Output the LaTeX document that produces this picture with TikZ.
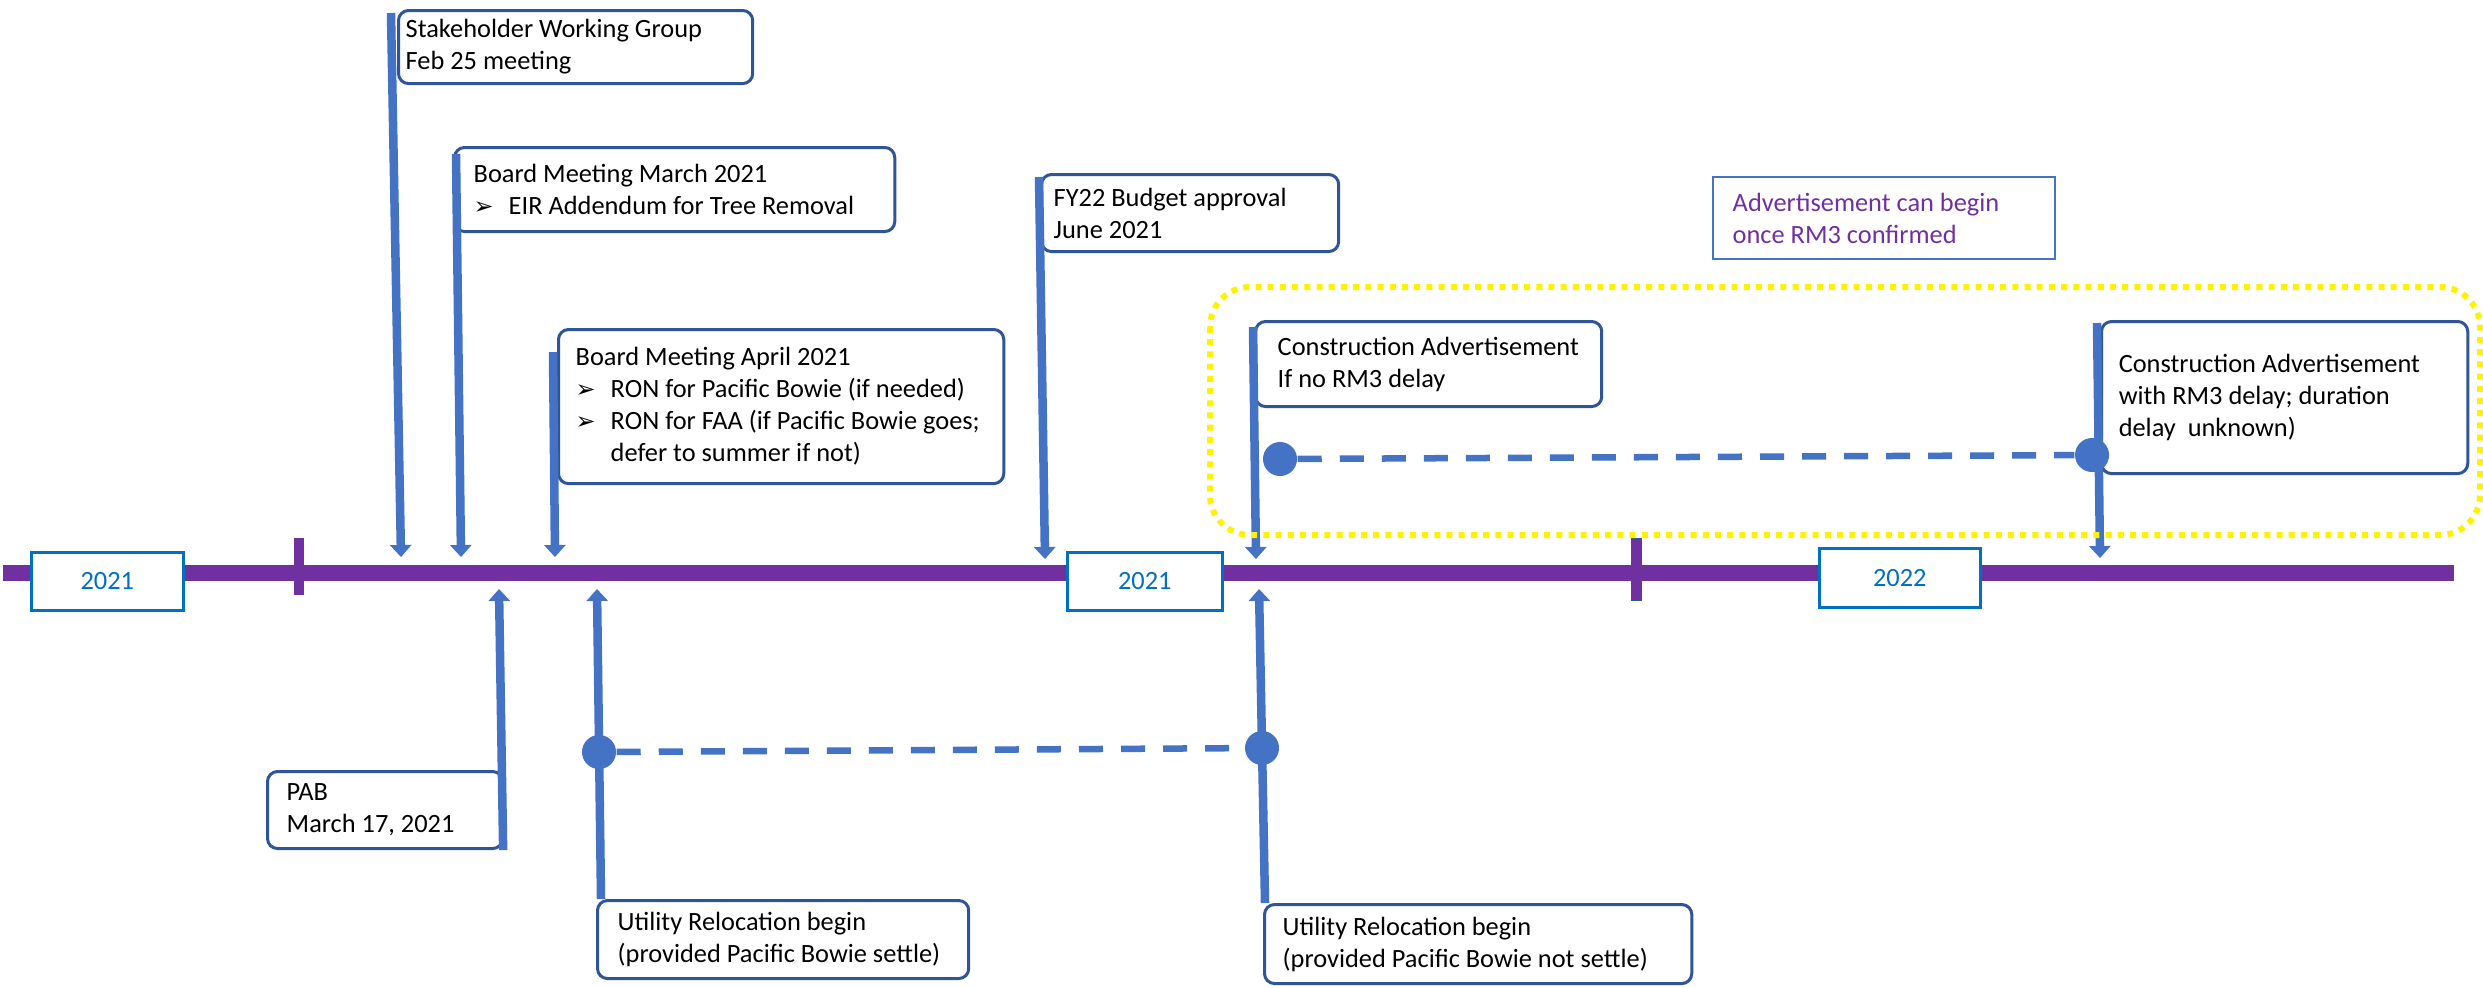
\documentclass[tikz,border=0pt]{standalone}
\usepackage{fontspec}
\setmainfont{Carlito}
\newfontfamily\dingfont{DejaVu Sans}
\usetikzlibrary{arrows.meta}
\definecolor{linepurple}{HTML}{7030A0}
\definecolor{arrowblue}{HTML}{4472C4}
\definecolor{boxblue}{HTML}{2F5597}
\definecolor{yearblue}{HTML}{0070C0}
\newcommand{\bul}{\makebox[0.35cm][l]{\dingfont\fontsize{6.8pt}{6.8pt}\selectfont ➢}}
\begin{document}
\begin{tikzpicture}[x=0.01cm,y=-0.01cm,font=\fontsize{7.5pt}{9.1pt}\selectfont,
evbox/.style={draw=boxblue,line width=0.03cm,rounded corners=0.1cm,fill=white,anchor=north west,inner sep=0pt},
evtext/.style={anchor=west,align=left,inner sep=0pt},
yearbox/.style={draw=yearblue,line width=0.025cm,fill=white,text=yearblue,anchor=north west,inner sep=0pt,minimum height=0.58cm},
evarrow/.style={arrowblue,line width=0.085cm,-{Triangle[width=0.21cm,length=0.12cm]}},
datedot/.style={circle,fill=arrowblue,inner sep=0pt,minimum size=0.34cm},
waitline/.style={arrowblue,line width=0.065cm,dash pattern=on 0.24cm off 0.18cm}]
\useasboundingbox (0,0) rectangle (2483,987);
\draw[linepurple,line width=0.16cm] (3,573) -- (2454,573);
\fill[linepurple] (294,538) rectangle (304,595);
\filldraw[fill=linepurple,draw=boxblue,line width=0.01cm] (1631,538) rectangle (1641,600);
\node[yearbox,minimum width=1.52cm] (y21a) at (30,551) {2021};
\node[yearbox,minimum width=1.55cm] (y21b) at (1066,551) {2021};
\node[yearbox,minimum width=1.61cm,minimum height=0.59cm] (y22) at (1818,547) {2022};
\node[draw=arrowblue,line width=0.02cm,anchor=north west,inner sep=0pt,minimum width=3.42cm,minimum height=0.82cm] (rmnote) at (1712,176) {};
\node[evtext,text=linepurple] (rmnotetext) at ([xshift=0.2cm]rmnote.west) {Advertisement can begin\\once RM3 confirmed};
\node[evbox,minimum width=3.54cm,minimum height=0.73cm] (swg) at (397,9) {};
\node[evtext] (swgtext) at ([xshift=0.08cm]swg.west) {Stakeholder Working Group\\Feb 25 meeting};
\node[evbox,minimum width=4.4cm,minimum height=0.84cm] (bmmar) at (453,146) {};
\node[evtext] (bmmartext) at ([xshift=0.2cm]bmmar.west) {Board Meeting March 2021\\\bul EIR Addendum for Tree Removal};
\node[evbox,minimum width=4.45cm,minimum height=1.54cm] (bmapr) at (557,328) {};
\node[evtext] (bmaprtext) at ([xshift=0.18cm]bmapr.west) {Board Meeting April 2021\\\bul RON for Pacific Bowie (if needed)\\\bul RON for FAA (if Pacific Bowie goes;\\\hspace*{0.35cm}defer to summer if not)};
\node[evbox,minimum width=2.97cm,minimum height=0.77cm] (budget) at (1040,173) {};
\node[evtext] (budgettext) at ([xshift=0.13cm]budget.west) {FY22 Budget approval\\June 2021};
\node[evbox,minimum width=3.46cm,minimum height=0.85cm] (advnow) at (1254,320) {};
\node[evtext] (advnowtext) at ([xshift=0.23cm]advnow.west) {Construction Advertisement\\If no RM3 delay};
\node[evbox,minimum width=3.66cm,minimum height=1.52cm] (advlater) at (2100,320) {};
\node[evtext] (advlatertext) at ([xshift=0.18cm]advlater.west) {Construction Advertisement\\with RM3 delay; duration\\delay\ \ unknown)};
\node[evbox,minimum width=2.35cm,minimum height=0.77cm] (pab) at (266,770) {};
\node[evtext] (pabtext) at ([xshift=0.2cm]pab.west) {PAB\\March 17, 2021};
\node[evbox,minimum width=3.71cm,minimum height=0.78cm] (utila) at (596,899) {};
\node[evtext] (utilatext) at ([xshift=0.21cm]utila.west) {Utility Relocation begin\\(provided Pacific Bowie settle)};
\node[evbox,minimum width=4.27cm,minimum height=0.79cm] (utilb) at (1263,903) {};
\node[evtext] (utilbtext) at ([xshift=0.19cm]utilb.west) {Utility Relocation begin\\(provided Pacific Bowie not settle)};
\coordinate (swgtip) at (401,557);
\coordinate (bmmartip) at (461,557);
\coordinate (bmaprtip) at (555,557);
\coordinate (budgettip) at (1045,559);
\coordinate (advnowtip) at (1256,559);
\coordinate (advlatertip) at (2100,558);
\coordinate (pabtip) at (499,589);
\coordinate (utilatip) at (597,589);
\coordinate (utilbtip) at (1259,589);
\draw[evarrow] ([xshift=-0.06cm,yshift=-0.04cm]swg.north west) -- (swgtip);
\draw[evarrow] ([xshift=0.03cm,yshift=-0.08cm]bmmar.north west) -- (bmmartip);
\draw[evarrow] ([xshift=-0.04cm,yshift=-0.24cm]bmapr.north west) -- (bmaprtip);
\draw[evarrow] ([xshift=-0.01cm,yshift=-0.04cm]budget.north west) -- (budgettip);
\draw[evarrow] ([xshift=-0.01cm,yshift=-0.07cm]advnow.north west) -- (advnowtip);
\draw[evarrow] ([xshift=-0.03cm,yshift=-0.03cm]advlater.north west) -- (advlatertip);
\draw[evarrow] ([xshift=-0.01cm]pab.south east) -- (pabtip);
\draw[evarrow] ([xshift=0.05cm]utila.north west) -- (utilatip);
\draw[evarrow] ([xshift=0.02cm]utilb.north west) -- (utilbtip);
\node[datedot] (dsettle) at (599,752) {};
\node[datedot] (dnosettle) at (1262,748) {};
\node[datedot] (dnow) at (1280,459) {};
\node[datedot] (dlater) at (2092,455) {};
\draw[waitline] (dsettle) -- (dnosettle);
\draw[waitline] (dnow) -- (dlater);
\draw[yellow,line width=0.06cm,dash pattern=on 0.06cm off 0.062cm,rounded corners=0.4cm] (1210,287) rectangle (2480,535);
\end{tikzpicture}
\end{document}
